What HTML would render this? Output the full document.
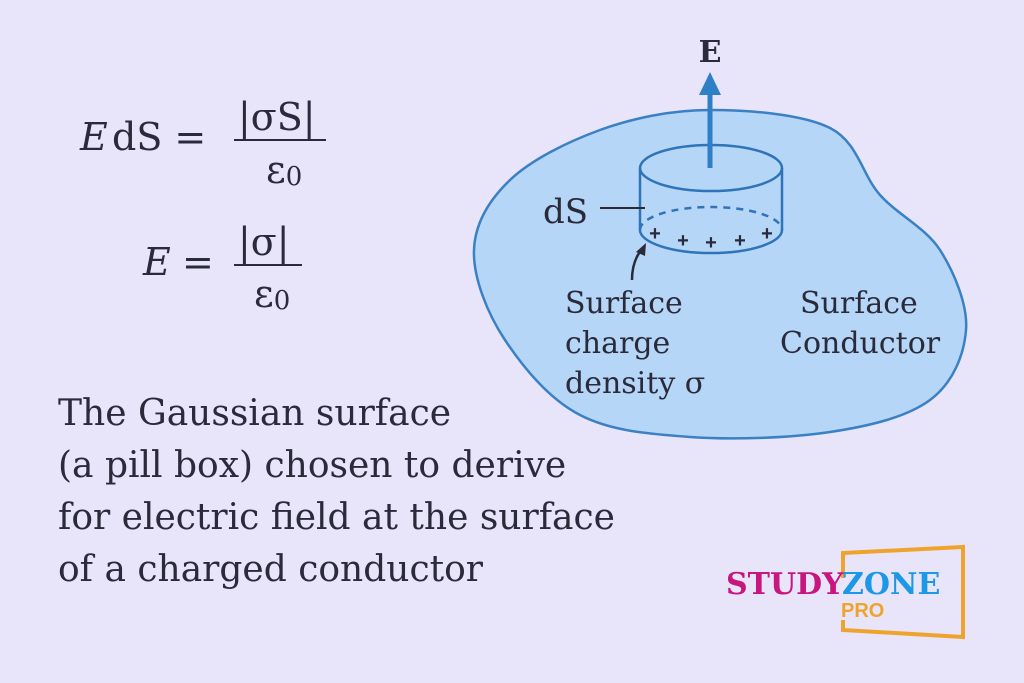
<!DOCTYPE html>
<html><head><meta charset="utf-8"><style>
body{margin:0;background:#e8e4fa;}
svg{display:block}
.s{font-family:"DejaVu Serif","Liberation Serif",serif;fill:#2a2a3a}
</style></head><body>
<svg width="1024" height="683" viewBox="0 0 1024 683">
<rect width="1024" height="683" fill="#e8e4fa"/>
<!-- blob -->
<path d="M710 110 C748 110 802 114 830 128 C858 142 862 175 880 195 C898 215 926 228 940 250 C954 272 968 305 966 330 C964 355 953 383 930 400 C907 417 870 426 830 432 C790 438 732 440 690 437 C648 434 611 431 580 415 C549 399 523 367 505 340 C487 313 473 277 474 250 C475 223 489 200 510 180 C531 160 567 142 600 130 C633 118 672 110 710 110 Z" fill="#b5d6f7" stroke="#3a80c4" stroke-width="2.5"/>
<!-- cylinder -->
<g fill="none" stroke="#2f74b8" stroke-width="2.5">
<ellipse cx="711" cy="168" rx="71" ry="23"/>
<line x1="640" y1="168" x2="640" y2="230"/>
<line x1="782" y1="168" x2="782" y2="230"/>
<path d="M640 230 A71 23 0 0 0 782 230"/>
<path d="M640 230 A71 23 0 0 1 782 230" stroke-dasharray="7 6"/>
</g>
<line x1="710" y1="168" x2="710" y2="92" stroke="#2f7fc6" stroke-width="5"/>
<polygon points="710,72 699,95 721,95" fill="#2f7fc6"/>
<text x="710" y="62" text-anchor="middle" class="s" font-size="30" font-weight="bold">E</text>
<g font-family="Liberation Sans,sans-serif" font-size="20" font-weight="bold" fill="#2a2a3a" text-anchor="middle">
<text x="655" y="240">+</text><text x="683" y="247">+</text><text x="711" y="249">+</text><text x="740" y="247">+</text><text x="767" y="240">+</text>
</g>
<line x1="600" y1="208" x2="645" y2="208" stroke="#2a2a3a" stroke-width="2"/>
<text x="543" y="223" class="s" font-size="34">dS</text>
<path d="M632 280 Q632 260 643 248" fill="none" stroke="#2a2a3a" stroke-width="2.5"/>
<polygon points="646,243 636,252 645,256" fill="#2a2a3a"/>
<g class="s" font-size="30">
<text x="565" y="313">Surface</text><text x="565" y="353">charge</text><text x="565" y="393">density σ</text>
<text x="800" y="313">Surface</text><text x="780" y="353">Conductor</text>
</g>
<!-- formulas -->
<g class="s" font-size="38">
<text x="80" y="150" font-style="italic">E</text><text x="112" y="150">dS =</text>
<text x="238" y="130">|σS|</text>
<line x1="234" y1="140" x2="326" y2="140" stroke="#2a2a3a" stroke-width="2"/>
<text x="266" y="183">ε<tspan font-size="26" dy="2">0</tspan></text>
<text x="143" y="275" font-style="italic">E</text><text x="182" y="275">=</text>
<text x="238" y="255">|σ|</text>
<line x1="234" y1="265" x2="302" y2="265" stroke="#2a2a3a" stroke-width="2"/>
<text x="254" y="307">ε<tspan font-size="26" dy="2">0</tspan></text>
</g>
<g class="s" font-size="36">
<text x="58" y="425">The Gaussian surface</text>
<text x="58" y="477">(a pill box) chosen to derive</text>
<text x="58" y="529">for electric field at the surface</text>
<text x="58" y="581">of a charged conductor</text>
</g>
<!-- logo -->
<path d="M843 578 L843 553 L963 547 L963 637 L843 630 L843 620" fill="none" stroke="#eea42c" stroke-width="4"/>
<text x="726" y="594" font-family="DejaVu Serif,serif" font-weight="bold" font-size="30" fill="#c7167e">STUDY</text>
<text x="842" y="594" font-family="DejaVu Serif,serif" font-weight="bold" font-size="30" fill="#1c98e6">ZONE</text>
<text x="841" y="617" font-family="Liberation Sans,sans-serif" font-weight="bold" font-size="20" fill="#eea42c">PRO</text>
</svg>
</body></html>
